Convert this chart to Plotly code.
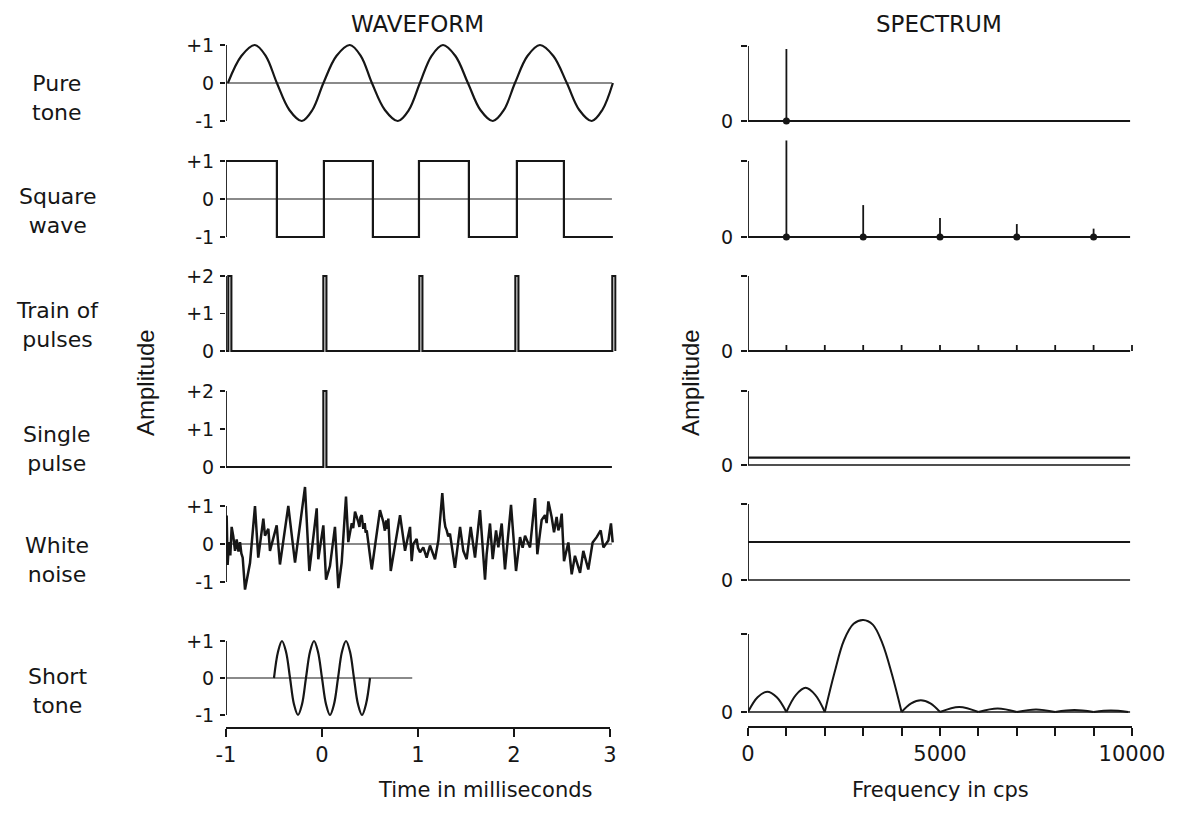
import plotly.graph_objects as go

# page is 1177x814; the html body adds an 8 px margin, so the figure is 16 px smaller
PAGE_W, PAGE_H, OFF = 1177, 814, 8
W, H = PAGE_W - 2 * OFF, PAGE_H - 2 * OFF
INK = "#161616"
FONT = "DejaVu Sans, Liberation Sans, Arial, sans-serif"

# ------------------------------------------------------------------ data
row_labels = ["Pure<br>tone", "Square<br>wave", "Train of<br>pulses",
              "Single<br>pulse", "White<br>noise", "Short<br>tone"]

# pure tone (1000 cps) read at zero crossings, peaks and in-between points
pure_t = [-0.98, -0.84, -0.70, -0.585, -0.47, -0.34, -0.21, -0.10, 0.015, 0.15,
          0.29, 0.405, 0.52, 0.655, 0.79, 0.905, 1.02, 1.14, 1.26, 1.39, 1.52,
          1.65, 1.78, 1.895, 2.01, 2.14, 2.27, 2.41, 2.55, 2.68, 2.81, 2.92, 3.03]
pure_v = [0, 0.71, 1, 0.71, 0, -0.71, -1, -0.71, 0, 0.71,
          1, 0.71, 0, -0.71, -1, -0.71, 0, 0.71, 1, 0.71, 0,
          -0.71, -1, -0.71, 0, 0.71, 1, 0.71, 0, -0.71, -1, -0.71, 0]

# square wave: level changes
square_t = [-1.0, -0.47, 0.02, 0.53, 1.01, 1.53, 2.03, 2.52, 3.03]
square_v = [1, -1, 1, -1, 1, -1, 1, -1, -1]

# pulses
train_pulse_t = [-0.96, 0.03, 1.03, 2.03, 3.04]
single_pulse_t = [0.03]
pulse_height = 2
pulse_width = 0.032

# white noise (read point by point)
noise_t = [-1.000, -0.993, -0.983, -0.969, -0.955, -0.941, -0.924, -0.906, -0.889, -0.870,
           -0.854, -0.840, -0.826, -0.802, -0.750, -0.698, -0.664, -0.611, -0.594, -0.559,
           -0.542, -0.507, -0.472, -0.438, -0.351, -0.281, -0.177, -0.132, -0.055, -0.039,
           0.014, 0.042, 0.083, 0.135, 0.170, 0.205, 0.250, 0.274, 0.292, 0.310,
           0.325, 0.344, 0.378, 0.390, 0.400, 0.414, 0.430, 0.445, 0.455, 0.466,
           0.518, 0.604, 0.639, 0.655, 0.670, 0.680, 0.691, 0.716, 0.813, 0.865,
           0.917, 0.934, 0.951, 0.986, 1.000, 1.021, 1.055, 1.070, 1.090, 1.125,
           1.177, 1.212, 1.253, 1.274, 1.285, 1.299, 1.315, 1.333, 1.385, 1.438,
           1.472, 1.507, 1.549, 1.594, 1.646, 1.698, 1.715, 1.750, 1.778, 1.813,
           1.837, 1.872, 1.906, 1.969, 2.021, 2.063, 2.090, 2.115, 2.140, 2.167,
           2.219, 2.243, 2.288, 2.323, 2.340, 2.358, 2.392, 2.405, 2.417, 2.444,
           2.453, 2.462, 2.480, 2.497, 2.521, 2.566, 2.601, 2.635, 2.688, 2.722,
           2.774, 2.819, 2.861, 2.903, 2.931, 2.983, 3.010, 3.028]
noise_v = [0.0, 0.75, -0.55, 0.05, -0.30, 0.45, 0.20, -0.18, 0.12, -0.20,
           0.05, -0.25, -0.36, -1.20, -0.50, 1.00, -0.36, 0.67, 0.22, 0.40,
           -0.18, 0.18, 0.49, -0.54, 1.00, -0.49, 1.50, -0.71, 0.94, -0.40,
           0.49, -0.94, -0.58, 0.45, -1.16, -0.49, 1.25, 0.05, 0.31, 0.55,
           0.42, 0.85, 0.58, 0.45, 0.70, 0.76, 0.40, 0.55, 0.30, 0.36,
           -0.67, 0.89, 0.58, 0.35, 0.62, 0.40, 0.67, -0.71, 0.76, -0.18,
           0.45, -0.45, 0.00, 0.13, -0.10, -0.22, -0.09, -0.20, -0.36, -0.04,
           -0.40, 0.09, 1.34, 0.63, 0.45, 0.36, 0.20, 0.27, -0.63, 0.45,
           -0.18, -0.40, 0.45, -0.36, 0.89, -0.94, -0.27, 0.54, -0.40, 0.36,
           -0.09, 0.54, -0.67, 1.03, -0.71, 0.18, -0.10, 0.22, 0.05, -0.09,
           1.21, -0.27, 0.63, 0.76, 0.55, 1.12, 0.71, 0.50, 0.31, 0.71,
           0.55, 0.36, 0.50, 0.80, -0.45, 0.04, -0.80, -0.31, -0.76, -0.18,
           -0.67, 0.04, 0.18, 0.36, -0.09, 0.09, 0.54, 0.04]

# short tone (3000 cps, 1 ms long)
short_t = [-0.5, -0.458, -0.417, -0.375, -0.333, -0.292, -0.25, -0.208, -0.167,
           -0.125, -0.083, -0.042, 0.0, 0.042, 0.083, 0.125, 0.167, 0.208, 0.25,
           0.292, 0.333, 0.375, 0.417, 0.458, 0.5]
short_v = [0, 0.71, 1, 0.71, 0, -0.71, -1, -0.71, 0,
           0.71, 1, 0.71, 0, -0.71, -1, -0.71, 0, 0.71, 1,
           0.71, 0, -0.71, -1, -0.71, 0]
time_range = [-1, 3.02]
short_zero_end = 0.94

# spectra
freq_range = [0, 9950]
pure_spec_f = [1000]
pure_spec_a = [0.96]
square_spec_f = [1000, 3000, 5000, 7000, 9000]
square_spec_a = [1.27, 0.42, 0.25, 0.17, 0.11]
train_spec_f = [1000, 2000, 3000, 4000, 5000, 6000, 7000, 8000, 9000, 10000]
train_spec_a = [0.08, 0.08, 0.08, 0.08, 0.08, 0.08, 0.08, 0.08, 0.08, 0.08]
single_spec_level = 0.10
noise_spec_level = 0.50
short_spec_f = [0, 250, 500, 750, 1000, None,
                1000, 1250, 1500, 1750, 2000, None,
                2000, 2250, 2500, 2750, 3000, 3250, 3500, 3750, 4000, None,
                4000, 4250, 4500, 4750, 5000, None,
                5000, 5500, 6000, None,
                6000, 6500, 7000, None,
                7000, 7500, 8000, None,
                8000, 8500, 9000, None,
                9000, 9450, 9900]
short_spec_a = [0, 0.19, 0.26, 0.19, 0, None,
                0, 0.22, 0.31, 0.22, 0, None,
                0, 0.50, 0.92, 1.13, 1.18, 1.12, 0.88, 0.48, 0, None,
                0, 0.11, 0.15, 0.11, 0, None,
                0, 0.065, 0, None,
                0, 0.045, 0, None,
                0, 0.032, 0, None,
                0, 0.025, 0, None,
                0, 0.018, 0]

left_ticks = [([-1, 0, 1], ["-1", "0", "+1"]), ([-1, 0, 1], ["-1", "0", "+1"]),
              ([0, 1, 2], ["0", "+1", "+2"]), ([0, 1, 2], ["0", "+1", "+2"]),
              ([-1, 0, 1], ["-1", "0", "+1"]), ([-1, 0, 1], ["-1", "0", "+1"])]
time_ticks = [-1, 0, 1, 2, 3]
freq_ticks = [0, 1000, 2000, 3000, 4000, 5000, 6000, 7000, 8000, 9000, 10000]
freq_tick_labels = ["0", "", "", "", "", "5000", "", "", "", "", "10000"]

# ------------------------------------------------------------------ layout geometry (page pixels)
L_X0, L_PPU, L_RANGE = 226, 96.0, [-1, 3.07]
R_X0, R_PPU, R_RANGE = 748, 0.0384, [0, 10080]
# (zero pixel, pixels per unit, top pixel, bottom pixel)
left_rows = [(83, 38, 38, 130), (199, 38, 150, 245), (351, 37.5, 266, 358),
             (467, 38, 380, 474), (544, 38, 482, 598), (678, 37, 630, 728)]
right_rows = [(121, 75, 40, 128), (237, 76, 135, 245), (351, 75, 266, 358),
              (465, 74, 380, 474), (580, 76, 482, 598), (712, 78, 612, 727)]


def fx(px):
    return (px - OFF) / W


def fy(py):
    return 1 - (py - OFF) / H


fig = go.Figure()
layout = dict(width=W, height=H, margin=dict(l=0, r=0, t=0, b=0, autoexpand=False),
              paper_bgcolor="white", plot_bgcolor="white", showlegend=False,
              hovermode=False, font=dict(family=FONT, color=INK))
shapes = []
annotations = []


def add(k, x, y, width=2.2, shape="linear", **kw):
    fig.add_trace(go.Scatter(x=x, y=y, mode="lines", xaxis=f"x{k}", yaxis=f"y{k}",
                             line=dict(color=INK, width=width, shape=shape),
                             connectgaps=False, **kw))


def pulse_path(times, end):
    xs, ys = [time_range[0]], [0]
    for t in times:
        xs += [t - pulse_width / 2, t - pulse_width / 2, t + pulse_width / 2, t + pulse_width / 2]
        ys += [0, pulse_height, pulse_height, 0]
    xs.append(end)
    ys.append(0)
    return xs, ys


def stems(fs, amps):
    xs, ys = [], []
    for f, a in zip(fs, amps):
        xs += [f, f, None]
        ys += [0, a, None]
    return xs, ys


# axes
for i in range(6):
    for side in ("L", "R"):
        k = i + 1 if side == "L" else i + 7
        zero, ppu, top, bot = (left_rows if side == "L" else right_rows)[i]
        yr = [-(bot - zero) / ppu, (zero - top) / ppu]
        if side == "L":
            x0, x1 = L_X0, L_X0 + (L_RANGE[1] - L_RANGE[0]) * L_PPU
            xr = L_RANGE
            tv, tt = left_ticks[i]
        else:
            x0, x1 = R_X0, R_X0 + (R_RANGE[1] - R_RANGE[0]) * R_PPU
            xr = R_RANGE
            tv, tt = [0, 1], ["0", ""]
        bottom = (i == 5)
        xa = dict(domain=[fx(x0), fx(x1)], range=xr, anchor=f"y{k}", automargin=False,
                  showgrid=False, zeroline=False, showline=False, fixedrange=True)
        if bottom:
            xa.update(tickmode="array",
                      tickvals=time_ticks if side == "L" else freq_ticks,
                      ticktext=[str(v) for v in time_ticks] if side == "L" else freq_tick_labels,
                      ticks="outside", ticklen=8, tickwidth=2, tickcolor=INK,
                      tickfont=dict(size=21, family=FONT, color=INK),
                      ticklabelstandoff=0)
        else:
            xa.update(visible=False)
        ya = dict(domain=[fy(bot), fy(top)], range=yr, anchor=f"x{k}", automargin=False,
                  showgrid=False, zeroline=False, showline=False, fixedrange=True,
                  tickmode="array", tickvals=tv, ticktext=tt, ticks="outside",
                  ticklen=6 if side == "R" else 5, tickwidth=1.8, tickcolor=INK,
                  tickfont=dict(size=19, family=FONT, color=INK),
                  ticklabelstandoff=2 if side == "L" else 4)
        layout[f"xaxis{k}"] = xa
        layout[f"yaxis{k}"] = ya
        shapes.append(dict(type="line", xref=f"x{k}", yref=f"y{k}",
                           x0=xr[0], x1=xr[0], y0=min(tv), y1=max(tv),
                           line=dict(color=INK, width=1.8)))
        if bottom:
            ends = (time_ticks[0], time_ticks[-1]) if side == "L" else (freq_ticks[0], freq_ticks[-1])
            shapes.append(dict(type="line", xref=f"x{k}", yref=f"y{k} domain",
                               x0=ends[0], x1=ends[1], y0=0, y1=0,
                               line=dict(color=INK, width=2.2)))

# ---- waveforms (left)
add(1, time_range, [0, 0], width=1.2)
add(1, pure_t, pure_v, shape="spline")
add(2, time_range, [0, 0], width=1.2)
add(2, square_t, square_v, shape="hv")
px, py = pulse_path(train_pulse_t, train_pulse_t[-1] + pulse_width / 2)
add(3, px, py, width=2.1)
px, py = pulse_path(single_pulse_t, time_range[1])
add(4, px, py, width=2.1)
add(5, time_range, [0, 0], width=1.2)
add(5, noise_t, noise_v, width=2.5)
add(6, [time_range[0], short_zero_end], [0, 0], width=1.2)
add(6, short_t, short_v, shape="spline")

# ---- spectra (right)
add(7, freq_range, [0, 0], width=1.8)
sx, sy = stems(pure_spec_f, pure_spec_a)
add(7, sx, sy, width=1.8)
fig.add_trace(go.Scatter(x=pure_spec_f, y=[0] * len(pure_spec_f), mode="markers",
                         xaxis="x7", yaxis="y7", marker=dict(color=INK, size=7)))
add(8, freq_range, [0, 0], width=1.8)
sx, sy = stems(square_spec_f, square_spec_a)
add(8, sx, sy, width=1.8)
fig.add_trace(go.Scatter(x=square_spec_f, y=[0] * len(square_spec_f), mode="markers",
                         xaxis="x8", yaxis="y8", marker=dict(color=INK, size=7)))
add(9, freq_range, [0, 0], width=1.8)
sx, sy = stems(train_spec_f, train_spec_a)
add(9, sx, sy, width=1.8)
add(10, freq_range, [0, 0], width=1.3)
add(10, freq_range, [single_spec_level, single_spec_level], width=2.4)
add(11, freq_range, [0, 0], width=1.3)
add(11, freq_range, [noise_spec_level, noise_spec_level], width=2.0)
add(12, freq_range, [0, 0], width=1.6)
add(12, short_spec_f, short_spec_a, width=2.0, shape="spline")


# ---- text
def ann(text, px, py, size, angle=0, family=FONT):
    annotations.append(dict(text=text, x=fx(px), y=fy(py), xref="paper", yref="paper",
                            showarrow=False, xanchor="center", yanchor="middle",
                            textangle=angle, font=dict(size=size, family=family, color=INK)))


ann("WAVEFORM", 417, 24, 23)
ann("SPECTRUM", 939, 24, 23)
label_y = [98, 211, 325, 449, 560, 691]
for lab, yy in zip(row_labels, label_y):
    ann(lab, 57, yy, 22)
ann("Amplitude", 145, 383, 24, angle=-90, family="Liberation Sans, Arial, sans-serif")
ann("Amplitude", 690, 383, 24, angle=-90, family="Liberation Sans, Arial, sans-serif")
ann("Time in milliseconds", 485, 790, 21)
ann("Frequency in cps", 940, 790, 21)

layout["shapes"] = shapes
layout["annotations"] = annotations
fig.update_layout(**layout)
fig.write_html("out.html", config={"displayModeBar": False, "staticPlot": True})
